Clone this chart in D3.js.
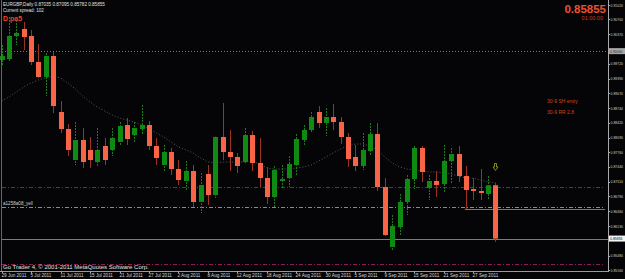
<!DOCTYPE html>
<html>
<head>
<meta charset="utf-8">
<script src="https://cdn.jsdelivr.net/npm/d3@7"></script>
<style>
  body { margin: 0; background: #000; }
  svg { display: block; font-family: "Liberation Sans", Arial, sans-serif; }
</style>
</head>
<body>
<svg id="chart" width="625" height="279"></svg>
<script>
// EURGBP daily bars, 29 Jun - 30 Sep 2011
const dates = [
  "2011-06-29","2011-06-30","2011-07-01","2011-07-04","2011-07-05","2011-07-06","2011-07-07","2011-07-08",
  "2011-07-11","2011-07-12","2011-07-13","2011-07-14","2011-07-15","2011-07-18","2011-07-19","2011-07-20",
  "2011-07-21","2011-07-22","2011-07-25","2011-07-26","2011-07-27","2011-07-28","2011-07-29","2011-08-01",
  "2011-08-02","2011-08-03","2011-08-04","2011-08-05","2011-08-08","2011-08-09","2011-08-10","2011-08-11",
  "2011-08-12","2011-08-15","2011-08-16","2011-08-17","2011-08-18","2011-08-19","2011-08-22","2011-08-23",
  "2011-08-24","2011-08-25","2011-08-26","2011-08-29","2011-08-30","2011-08-31","2011-09-01","2011-09-02",
  "2011-09-05","2011-09-06","2011-09-07","2011-09-08","2011-09-09","2011-09-12","2011-09-13","2011-09-14",
  "2011-09-15","2011-09-16","2011-09-19","2011-09-20","2011-09-21","2011-09-22","2011-09-23","2011-09-26",
  "2011-09-27","2011-09-28","2011-09-29","2011-09-30"
];
const opens = [
  0.89804,0.89826,0.90335,0.90489,0.90335,0.89760,0.89428,0.89892,0.88654,0.88278,0.87592,0.88035,
  0.87814,0.87548,0.87902,0.87814,0.87990,0.88366,0.88145,0.88278,0.88366,0.87902,0.87482,0.87769,
  0.87393,0.87128,0.87349,0.86664,0.87283,0.86818,0.88101,0.87769,0.87659,0.87548,0.88145,0.87526,
  0.87194,0.86774,0.87128,0.87194,0.87482,0.88035,0.88256,0.88654,0.88411,0.88543,0.88433,0.88101,
  0.87659,0.87460,0.87791,0.88167,0.86995,0.85669,0.86110,0.86664,0.87172,0.87858,0.86973,0.87128,
  0.87062,0.87570,0.87725,0.87238,0.86951,0.86907,0.86840,0.87035
];
const highs = [
  0.90135,0.90755,0.90688,0.90644,0.90467,0.90158,0.89958,0.89981,0.88897,0.88388,0.88433,0.88300,
  0.88101,0.88300,0.88079,0.88300,0.88433,0.88521,0.88433,0.88809,0.88455,0.88079,0.87924,0.87858,
  0.87592,0.87570,0.87482,0.87305,0.87482,0.88110,0.88853,0.88256,0.87747,0.88300,0.88234,0.88079,
  0.87438,0.87460,0.87482,0.87681,0.88167,0.88366,0.88654,0.88786,0.88742,0.88831,0.88543,0.88189,
  0.87924,0.88189,0.88411,0.88411,0.87194,0.86376,0.86840,0.87261,0.87902,0.87902,0.87261,0.87349,
  0.87924,0.87858,0.87902,0.87460,0.87194,0.87393,0.87238,0.87095
];
const lows = [
  0.89693,0.89760,0.90135,0.90025,0.89693,0.89406,0.89008,0.88632,0.88189,0.87681,0.87482,0.87415,
  0.87415,0.87460,0.87482,0.87681,0.87902,0.87924,0.87990,0.88145,0.87814,0.87482,0.87327,0.87261,
  0.87040,0.86929,0.86553,0.86420,0.86597,0.86752,0.87592,0.87349,0.87305,0.87526,0.87349,0.86995,
  0.86619,0.86553,0.86973,0.86995,0.87261,0.87924,0.88189,0.88300,0.88123,0.88256,0.87946,0.87438,
  0.87349,0.87371,0.87681,0.86907,0.85912,0.85602,0.85934,0.86376,0.86951,0.87106,0.86708,0.86774,
  0.86863,0.87084,0.87106,0.86509,0.86708,0.86708,0.86730,0.85782
];
const closes = [
  0.89892,0.90335,0.90401,0.90312,0.89760,0.89428,0.89892,0.88786,0.88278,0.87814,0.88035,0.87548,
  0.87592,0.87814,0.87592,0.88079,0.88344,0.88057,0.88300,0.88366,0.87902,0.87637,0.87769,0.87393,
  0.87150,0.87349,0.86664,0.87040,0.86818,0.88101,0.87769,0.87659,0.87460,0.88145,0.87526,0.87194,
  0.86774,0.87371,0.87172,0.87504,0.88057,0.88256,0.88543,0.88411,0.88543,0.88433,0.88101,0.87614,
  0.87460,0.87814,0.88167,0.86995,0.85934,0.86132,0.86664,0.87172,0.87858,0.87327,0.87128,0.87040,
  0.87570,0.87725,0.87238,0.86929,0.86907,0.86863,0.87035,0.85855
];
// moving average
const maValues = [
  0.88897,0.88986,0.89096,0.89207,0.89295,0.89361,0.89406,0.89450,0.89406,0.89295,0.89162,0.89008,
  0.88875,0.88764,0.88676,0.88588,0.88521,0.88477,0.88433,0.88366,0.88278,0.88189,0.88101,0.87990,
  0.87880,0.87814,0.87747,0.87637,0.87548,0.87526,0.87548,0.87548,0.87548,0.87548,0.87570,0.87504,
  0.87415,0.87393,0.87393,0.87393,0.87415,0.87438,0.87482,0.87570,0.87659,0.87747,0.87836,0.87902,
  0.87946,0.87946,0.87902,0.87814,0.87659,0.87526,0.87438,0.87393,0.87371,0.87349,0.87327,0.87327,
  0.87305,0.87283,0.87238,0.87194,0.87194,0.87150,0.87106,0.87084
];
const priceTicks = [
  "0.91020","0.90700","0.90370","0.89720","0.89390","0.89070","0.88740","0.88420","0.88090",
  "0.87760","0.87440","0.87110","0.86790","0.86460","0.86130","0.85480","0.85160"
];
const roundLevel = 0.90000;
const upperLevel = 0.87000;
const yellowLevel = 0.86553;
const cyanLevel = 0.86509;
const cyanStart = 63;
const lowerLevel = 0.85300;
const bid = 0.85855;

const svg = d3.select("#chart");
const W = 625, H = 279, plotRight = 608, plotBottom = 271;

const x = d3.scaleLinear().domain([0, 64]).range([1.6, 473.3]);
const y = d3.scaleLinear().domain([0.85160, 0.91020]).range([270, 5]);
const parseDate = d3.timeParse("%Y-%m-%d");
const fmtDate = d3.timeFormat("%-d %b %Y");

const bars = dates.map((d, i) => ({
  i: i, date: parseDate(d), o: opens[i], h: highs[i], l: lows[i], c: closes[i]
}));

svg.append("rect").attr("width", W).attr("height", H).attr("fill", "#050507");

/**
 * Horizontal levels
 */
function hLine(price, x0, x1, color, dash) {
  svg.append("line")
    .attr("x1", x0).attr("x2", x1)
    .attr("y1", Math.round(y(price)) + 0.5).attr("y2", Math.round(y(price)) + 0.5)
    .attr("stroke", color).attr("stroke-width", 1)
    .attr("stroke-dasharray", dash);
}
hLine(roundLevel, 2, plotRight, "#7a7a7a", "1,2");
hLine(upperLevel, 2, 605, "#8a1f55", "4,2,1,2");
hLine(yellowLevel, 2, 605, "#9a9a1a", "4,2,1,2");
hLine(cyanLevel, x(cyanStart) - 1, 605, "#2a9a9a", null);
hLine(bid, 2, plotRight, "#7c7c7c", null);
hLine(lowerLevel, 2, 605, "#8a1f55", "4,2,1,2");

/**
 * Moving average
 */
svg.append("path")
  .datum(maValues)
  .attr("fill", "none")
  .attr("stroke", "#5a5a5a")
  .attr("stroke-width", 1)
  .attr("stroke-dasharray", "1,2")
  .attr("d", d3.line().x((d, i) => x(i)).y(d => y(d)));

/**
 * Candles
 */
const candle = svg.append("g").selectAll("g").data(bars).enter().append("g");

candle.append("line")
  .attr("x1", d => Math.round(x(d.i)) + 0.5)
  .attr("x2", d => Math.round(x(d.i)) + 0.5)
  .attr("y1", d => y(d.h))
  .attr("y2", d => y(d.l))
  .attr("stroke", d => d.c >= d.o ? "#1f7a1f" : "#9a3322")
  .attr("stroke-dasharray", d => d.c >= d.o ? "2,1" : null);

candle.append("rect")
  .attr("x", d => Math.round(x(d.i)) - 2)
  .attr("width", 5)
  .attr("y", d => y(Math.max(d.o, d.c)))
  .attr("height", d => Math.max(1, Math.abs(y(d.o) - y(d.c))))
  .attr("fill", d => d.c >= d.o ? "#0f8a12" : "#fa6446");

// signal arrow above the last bar
const last = bars[bars.length - 1];
const ax = Math.round(x(last.i)) + 0.5, ay = y(last.h) - 19;
svg.append("path")
  .attr("d", `M${ax - 1},${ay} h2 v3.5 h1.5 l-2.5,3.5 l-2.5,-3.5 h1.5 z`)
  .attr("fill", "none").attr("stroke", "#a8a820").attr("stroke-width", 0.8);

/**
 * Frame and price axis
 */
svg.append("line").attr("x1", 1.5).attr("x2", 1.5).attr("y1", 0).attr("y2", plotBottom)
  .attr("stroke", "#666");
svg.append("line").attr("x1", 0).attr("x2", plotRight).attr("y1", plotBottom + 0.5).attr("y2", plotBottom + 0.5)
  .attr("stroke", "#999");
svg.append("line").attr("x1", plotRight + 0.5).attr("x2", plotRight + 0.5).attr("y1", 0).attr("y2", plotBottom + 1)
  .attr("stroke", "#aaa");

// the axis labels are narrow, squeeze them into the strip right of the axis
const axisG = svg.append("g").attr("font-size", 4.4).attr("fill", "#d0d0d0");
priceTicks.forEach(t => {
  const ty = y(+t);
  axisG.append("line").attr("x1", plotRight).attr("x2", plotRight + 2)
    .attr("y1", Math.round(ty) + 0.5).attr("y2", Math.round(ty) + 0.5).attr("stroke", "#aaa");
  axisG.append("text").attr("x", 610.5).attr("y", ty + 1.6)
    .attr("textLength", 12.5).attr("lengthAdjust", "spacingAndGlyphs")
    .text(t);
});

function priceBox(price, bg, fg) {
  const py = y(price);
  svg.append("rect").attr("x", 609).attr("y", py - 3).attr("width", 16).attr("height", 6).attr("fill", bg);
  svg.append("text").attr("x", 610).attr("y", py + 1.6).attr("font-size", 4.4).attr("fill", fg)
    .attr("textLength", 12.5).attr("lengthAdjust", "spacingAndGlyphs")
    .text(price.toFixed(5));
}
priceBox(roundLevel, "#a8a8a8", "#303030");
priceBox(bid, "#f4f4f4", "#000");

/**
 * Date axis
 */
const dateG = svg.append("g").attr("font-size", 4.6).attr("fill", "#d8d8d8");
bars.filter(d => d.i % 4 === 0).forEach(d => {
  const dx = Math.round(x(d.i)) + 0.5;
  dateG.append("line").attr("x1", dx).attr("x2", dx).attr("y1", plotBottom).attr("y2", plotBottom + 2)
    .attr("stroke", "#aaa");
  dateG.append("text").attr("x", dx - 1).attr("y", 277).text(fmtDate(d.date));
});

/**
 * Text labels
 */
function label(txt, tx, ty, size, color, opts = {}) {
  svg.append("text").attr("x", tx).attr("y", ty)
    .attr("font-size", size).attr("fill", color)
    .attr("font-weight", opts.bold ? "bold" : null)
    .attr("text-anchor", opts.anchor || null)
    .text(txt);
}
label("EURGBP,Daily  0.87035 0.87095 0.85782 0.85855", 3, 6, 4.6, "#e0e0e0");
label("Current spread: 102", 3, 11.5, 4.6, "#e0e0e0");
label("D pa5", 3, 21, 7, "#e8452c", {bold: true});
label("0.85855", 606, 12.5, 11.5, "#f0502f", {bold: true, anchor: "end"});
label("01:00:00", 603, 20, 5.5, "#d83a20", {anchor: "end"});
label("30-9 SH entry", 547, 103, 5, "#d8401e");
label("30-9 RR 2.8", 547, 114, 5, "#d8401e");
label("a1258a08_yell", 3, 205, 4.6, "#d0d0d0");
label("Go Trader 4, \u00a9 2001-2011 MetaQuotes Software Corp.", 3, 269, 6, "#e0e0e0");
</script>
</body>
</html>
